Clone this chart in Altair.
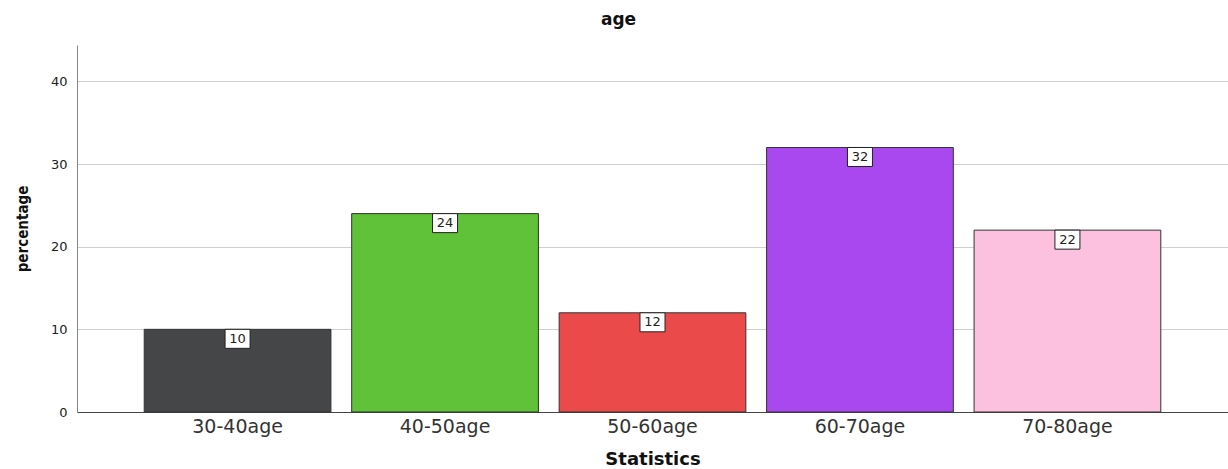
import altair as alt
import pandas as pd

categories = ["30-40age", "40-50age", "50-60age", "60-70age", "70-80age"]
values = [10, 24, 12, 32, 22]
colors = ["#454648", "#5fc238", "#eb4a4b", "#aa48f0", "#fdc1e0"]

df = pd.DataFrame({"cat": categories, "val": values})

FONT = "DejaVu Sans"

x = alt.X("cat:N", sort=categories, title="Statistics",
          scale=alt.Scale(paddingInner=0.1, paddingOuter=0.324),
          axis=alt.Axis(labelAngle=0, labelFontSize=19, labelColor="#333333",
                        labelFont=FONT, labelPadding=5, ticks=False,
                        domainColor="#444444", titleFont=FONT,
                        titleFontSize=18, titleFontWeight="bold", titleColor="#111111",
                        titlePadding=14))
y = alt.Y("val:Q", title="percentage",
          scale=alt.Scale(domain=[0, 44.4], nice=False),
          axis=alt.Axis(values=[0, 10, 20, 30, 40], labelFontSize=13,
                        labelFont=FONT, labelColor="#222222",
                        ticks=False, labelPadding=10, domainColor="#888888",
                        gridColor="#cfcfcf", titleFont="DejaVu Sans Condensed, DejaVu Sans",
                        titleFontSize=15, titleFontWeight="bold", titleColor="#111111",
                        titlePadding=20))

bars = alt.Chart(df).mark_bar(stroke="#333333", strokeWidth=1).encode(
    x=x, y=y,
    color=alt.Color("cat:N", scale=alt.Scale(domain=categories, range=colors), legend=None),
)

box = alt.Chart(df).mark_point(
    shape="M-1,-0.76L1,-0.76L1,0.76L-1,0.76Z", size=625, filled=True,
    fill="white", stroke="#222222", strokeWidth=1, opacity=1, yOffset=9.5,
).encode(x=alt.X("cat:N", sort=categories), y=alt.Y("val:Q"))

labels = alt.Chart(df).mark_text(
    dy=9.5, baseline="middle", fontSize=13, font=FONT, color="#222222"
).encode(x=alt.X("cat:N", sort=categories), y=alt.Y("val:Q"), text="val:Q")

chart = (bars + box + labels).properties(
    width=1151, height=367,
    title=alt.TitleParams("age", fontSize=17, fontWeight="bold", font=FONT,
                          color="#111111", offset=16, dx=-34),
    autosize=alt.AutoSizeParams(type="none"),
    padding={"left": 77, "top": 45, "right": 0, "bottom": 57},
).configure_view(stroke=None)

chart.save("out.html", embed_options={"renderer": "svg", "actions": False})
